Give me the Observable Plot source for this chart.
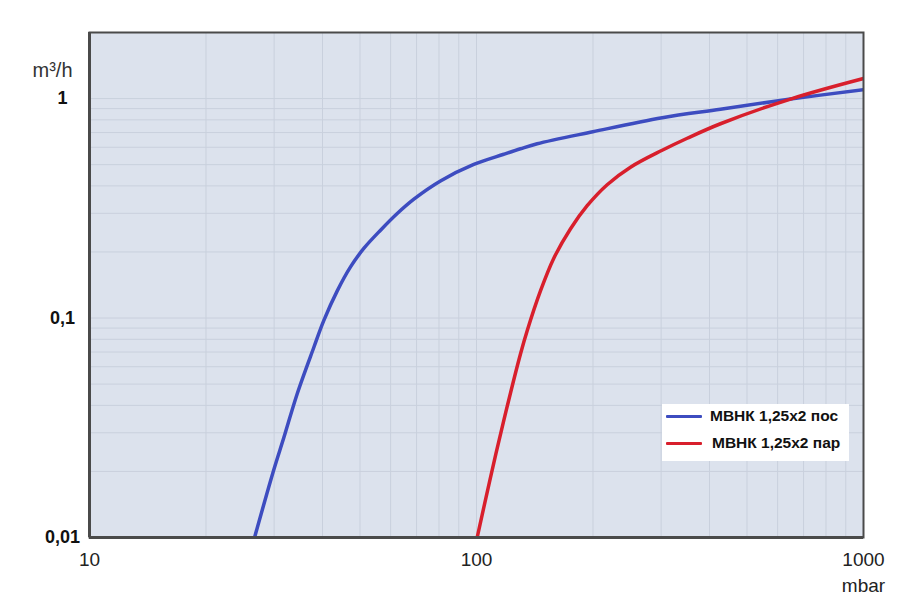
<!DOCTYPE html>
<html>
<head>
<meta charset="utf-8">
<script src="https://cdn.jsdelivr.net/npm/d3@7"></script>
<script src="https://cdn.jsdelivr.net/npm/@observablehq/plot@0.6"></script>
<style>
  body { margin: 0; background: #fff; }
  #wrap { position: relative; width: 900px; height: 601px; }
  #legend { position: absolute; left: 662px; top: 404px; width: 187px; height: 57px; background: #fff;
            font-family: "Liberation Sans", Arial, sans-serif; font-weight: bold; font-size: 15.5px; color: #111; }
  .row { position: absolute; left: 4px; display: flex; align-items: center; }
  .sw { display: inline-block; width: 36px; height: 3px; margin-right: 8px; border-radius: 1px; }
</style>
</head>
<body>
<div id="wrap"></div>
<script>
// ---- data ----
const blueP = [26.7, 29.9, 31.8, 34.4, 38.0, 40.3, 43.7, 47.3, 51.2, 56.5, 62.4, 68.9, 80.7, 98.4, 117.6, 129.9, 143.5, 199.8, 301.9, 427.0, 647.7, 1000];
const blueQ = [0.01, 0.0202, 0.0286, 0.0451, 0.0736, 0.0973, 0.1333, 0.1714, 0.2081, 0.2514, 0.2995, 0.3482, 0.4215, 0.5011, 0.5576, 0.5906, 0.6226, 0.7059, 0.8177, 0.8938, 0.995, 1.097];
const redP  = [100.4, 108.7, 117.6, 129.9, 135.2, 146.4, 158.4, 175.0, 193.2, 217.6, 250.0, 301.9, 350.4, 427.0, 647.7, 1000];
const redQ  = [0.01, 0.0188, 0.0341, 0.0686, 0.0876, 0.1333, 0.1874, 0.2553, 0.3249, 0.4050, 0.4866, 0.5815, 0.6595, 0.7678, 0.995, 1.234];
const seriesNames = ["МВНК 1,25x2 пос", "МВНК 1,25x2 пар"];
const seriesColors = ["#3d4cc0", "#d81f2c"];
const xTicks = [10, 100, 1000];
const xTickLabels = ["10", "100", "1000"];
const yTicks = [0.01, 0.1, 1];
const yTickLabels = ["0,01", "0,1", "1"];
const xGrid = [20,30,40,50,60,70,80,90,100,200,300,400,500,600,700,800,900];
const yGrid = [0.02,0.03,0.04,0.05,0.06,0.07,0.08,0.09,0.1,0.2,0.3,0.4,0.5,0.6,0.7,0.8,0.9,1,2];
const xUnit = "mbar";
const yUnit = "m³/h";

const blue = blueP.map((p, i) => ({p, q: blueQ[i]}));
const red = redP.map((p, i) => ({p, q: redQ[i]}));
const font = "'Liberation Sans', Arial, sans-serif";

const chart = Plot.plot({
  width: 900,
  height: 601,
  marginLeft: 89,
  marginRight: 37,
  marginTop: 32,
  marginBottom: 64,
  style: {background: "transparent", overflow: "visible"},
  x: {type: "log", domain: [10, 1000], axis: null},
  y: {type: "log", domain: [0.01, 2], axis: null},
  marks: [
    Plot.frame({fill: "#dce2ed", stroke: null}),
    Plot.ruleX(xGrid, {stroke: "#c9d0dd", strokeWidth: 1}),
    Plot.ruleY(yGrid, {stroke: "#c9d0dd", strokeWidth: 1}),
    Plot.line(blue, {x: "p", y: "q", stroke: seriesColors[0], strokeWidth: 3.5, curve: "catmull-rom", clip: true}),
    Plot.line(red, {x: "p", y: "q", stroke: seriesColors[1], strokeWidth: 3.5, curve: "catmull-rom", clip: true}),
    Plot.frame({stroke: "#4a4a4a", strokeWidth: 2}),
    Plot.ruleX([10], {stroke: "#4a4a4a", strokeWidth: 3}),
    Plot.ruleY([0.01], {stroke: "#4a4a4a", strokeWidth: 3}),
    Plot.text(xTicks, {x: d => d, frameAnchor: "bottom", dy: 28, text: (d, i) => xTickLabels[i],
      fontSize: 19, fill: "#222", fontFamily: font}),
    Plot.text(yTicks, {y: d => d, frameAnchor: "left", dx: -27, text: (d, i) => yTickLabels[i],
      textAnchor: "middle", fontSize: 18, fontWeight: "bold", fill: "#111", fontFamily: font}),
    Plot.text([xUnit], {x: () => 1000, frameAnchor: "bottom", dy: 54, text: d => d, fontSize: 19, fill: "#222",
      fontFamily: font}),
    Plot.text([yUnit], {frameAnchor: "top-left", dx: -37, dy: 30, text: d => d, fontSize: 20, fill: "#333",
      fontFamily: font, textAnchor: "middle"})
  ]
});

const wrap = document.getElementById("wrap");
wrap.appendChild(chart);

const legend = document.createElement("div");
legend.id = "legend";
seriesNames.forEach((name, i) => {
  const row = document.createElement("div");
  row.className = "row";
  row.style.top = (i === 0 ? 3 : 30) + "px";
  const sw = document.createElement("span");
  sw.className = "sw";
  sw.style.background = seriesColors[i];
  const t = document.createElement("span");
  t.textContent = name;
  if (i === 1) t.style.marginLeft = "2px";
  row.appendChild(sw);
  row.appendChild(t);
  legend.appendChild(row);
});
wrap.appendChild(legend);
</script>
</body>
</html>
